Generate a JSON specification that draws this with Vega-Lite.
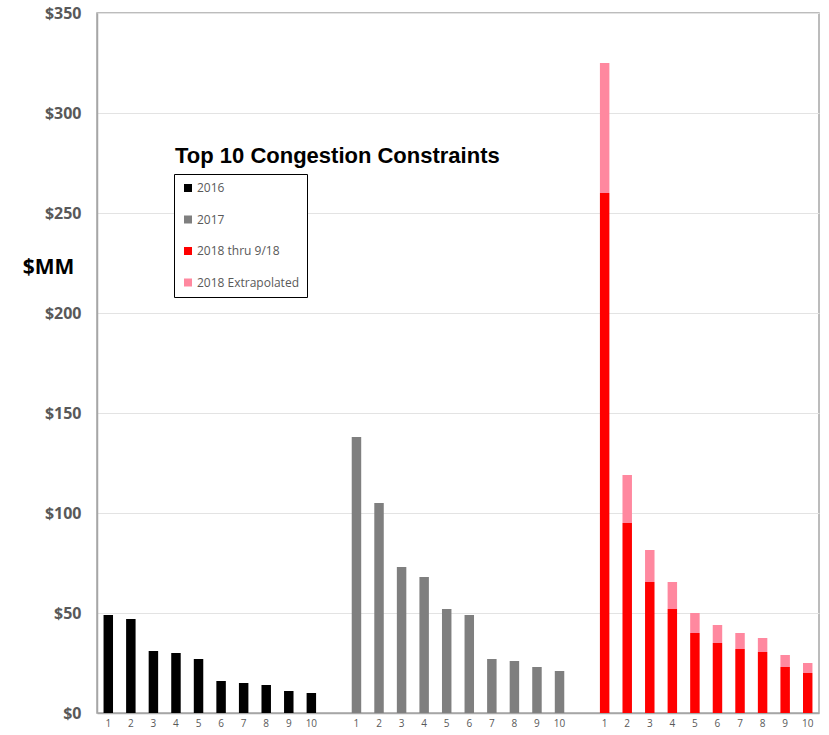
{
  "$schema": "https://vega.github.io/schema/vega-lite/v6.json",
  "width": 722,
  "height": 700,
  "autosize": {"type": "none"},
  "padding": {"left": 97, "top": 13, "right": 10, "bottom": 22},
  "background": "white",
  "title": {
    "text": "Top 10 Congestion Constraints",
    "anchor": "start",
    "frame": "group",
    "orient": "top",
    "font": "Liberation Sans",
    "fontSize": 22,
    "fontWeight": "bold",
    "color": "#000000",
    "baseline": "middle",
    "dx": 78,
    "dy": 177
  },
  "data": {
    "values": [
      {"pos": 1, "series": "2016", "value": 49},
      {"pos": 2, "series": "2016", "value": 47},
      {"pos": 3, "series": "2016", "value": 31},
      {"pos": 4, "series": "2016", "value": 30},
      {"pos": 5, "series": "2016", "value": 27},
      {"pos": 6, "series": "2016", "value": 16},
      {"pos": 7, "series": "2016", "value": 15},
      {"pos": 8, "series": "2016", "value": 14},
      {"pos": 9, "series": "2016", "value": 11},
      {"pos": 10, "series": "2016", "value": 10},
      {"pos": 12, "series": "2017", "value": 138},
      {"pos": 13, "series": "2017", "value": 105},
      {"pos": 14, "series": "2017", "value": 73},
      {"pos": 15, "series": "2017", "value": 68},
      {"pos": 16, "series": "2017", "value": 52},
      {"pos": 17, "series": "2017", "value": 49},
      {"pos": 18, "series": "2017", "value": 27},
      {"pos": 19, "series": "2017", "value": 26},
      {"pos": 20, "series": "2017", "value": 23},
      {"pos": 21, "series": "2017", "value": 21},
      {"pos": 23, "series": "2018 thru 9/18", "value": 260},
      {"pos": 24, "series": "2018 thru 9/18", "value": 95},
      {"pos": 25, "series": "2018 thru 9/18", "value": 65.5},
      {"pos": 26, "series": "2018 thru 9/18", "value": 52},
      {"pos": 27, "series": "2018 thru 9/18", "value": 40},
      {"pos": 28, "series": "2018 thru 9/18", "value": 35},
      {"pos": 29, "series": "2018 thru 9/18", "value": 32},
      {"pos": 30, "series": "2018 thru 9/18", "value": 30.5},
      {"pos": 31, "series": "2018 thru 9/18", "value": 23},
      {"pos": 32, "series": "2018 thru 9/18", "value": 20},
      {"pos": 23, "series": "2018 Extrapolated", "value": 65},
      {"pos": 24, "series": "2018 Extrapolated", "value": 24},
      {"pos": 25, "series": "2018 Extrapolated", "value": 16},
      {"pos": 26, "series": "2018 Extrapolated", "value": 13.5},
      {"pos": 27, "series": "2018 Extrapolated", "value": 10},
      {"pos": 28, "series": "2018 Extrapolated", "value": 9},
      {"pos": 29, "series": "2018 Extrapolated", "value": 8},
      {"pos": 30, "series": "2018 Extrapolated", "value": 7},
      {"pos": 31, "series": "2018 Extrapolated", "value": 6},
      {"pos": 32, "series": "2018 Extrapolated", "value": 5}
    ]
  },
  "mark": {"type": "bar"},
  "encoding": {
    "x": {
      "field": "pos",
      "type": "ordinal",
      "scale": {
        "domain": [1,2,3,4,5,6,7,8,9,10,11,12,13,14,15,16,17,18,19,20,21,22,23,24,25,26,27,28,29,30,31,32],
        "paddingInner": 0.58,
        "paddingOuter": 0.29
      },
      "axis": {
        "title": null,
        "labelAngle": 0,
        "labelFont": "Open Sans",
        "labelFontSize": 10,
        "labelColor": "#595959",
        "labelPadding": 5,
        "ticks": false,
        "domainColor": "#a6a6a6",
        "domainWidth": 1.5,
        "labelExpr": "datum.value == 11 || datum.value == 22 ? '' : datum.value > 22 ? datum.value - 22 : datum.value > 11 ? datum.value - 11 : datum.value"
      }
    },
    "y": {
      "field": "value",
      "type": "quantitative",
      "stack": "zero",
      "scale": {"domain": [0, 350], "nice": false},
      "axis": {
        "values": [0, 50, 100, 150, 200, 250, 300, 350],
        "labelExpr": "'$' + datum.value",
        "labelFont": "Open Sans",
        "labelFontSize": 16,
        "labelFontWeight": "bold",
        "labelColor": "#595959",
        "labelPadding": 16,
        "ticks": false,
        "domainColor": "#a6a6a6",
        "domainWidth": 1.5,
        "gridColor": "#e3e3e3",
        "gridWidth": 1.2,
        "title": "$MM",
        "titleAngle": 0,
        "titleFont": "Open Sans",
        "titleFontSize": 21,
        "titleFontWeight": "bold",
        "titleColor": "#000000",
        "titleAlign": "center",
        "titleBaseline": "middle",
        "titleX": -49,
        "titleY": 254
      }
    },
    "color": {
      "field": "series",
      "type": "nominal",
      "scale": {
        "domain": ["2016", "2017", "2018 thru 9/18", "2018 Extrapolated"],
        "range": ["#000000", "#7f7f7f", "#ff0000", "#ff889f"]
      },
      "legend": {
        "title": null,
        "orient": "none",
        "legendX": 77,
        "legendY": 161,
        "direction": "vertical",
        "symbolType": "square",
        "symbolSize": 64,
        "symbolStrokeWidth": 0,
        "labelFont": "Open Sans",
        "labelFontSize": 12,
        "labelColor": "#595959",
        "labelOffset": 3,
        "rowPadding": 19.5,
        "padding": 8,
        "strokeColor": "#000000",
        "fillColor": "white",
        "cornerRadius": 0
      }
    },
    "order": {"field": "series", "sort": "descending"}
  },
  "config": {
    "view": {"stroke": "#a6a6a6", "strokeWidth": 1.5}
  }
}
